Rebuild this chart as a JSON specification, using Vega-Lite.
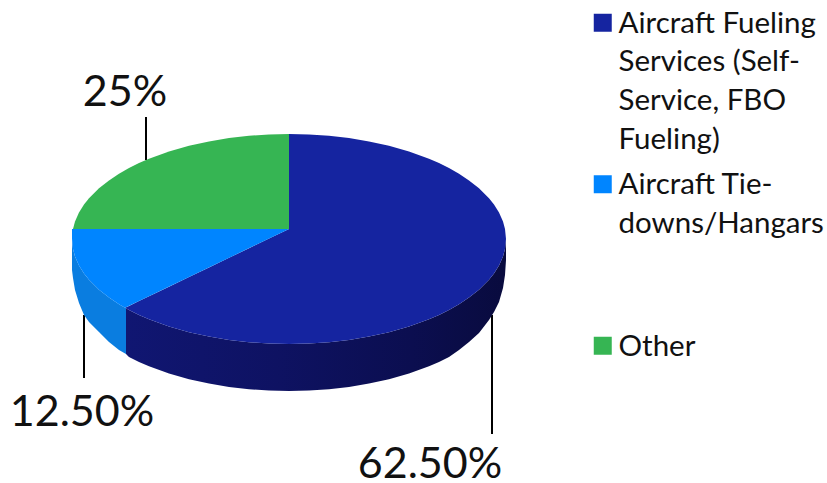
{
  "$schema": "https://vega.github.io/schema/vega-lite/v6.json",
  "width": 827,
  "height": 483,
  "padding": 0,
  "autosize": {"type": "none"},
  "background": "white",
  "config": {"view": {"stroke": null}},
  "datasets": {
    "faces": [
      {"slice": "Aircraft Fueling Services", "x": 125, "y": 307.8, "y2": 307.8},
      {"slice": "Aircraft Fueling Services", "x": 129, "y": 305.9, "y2": 309.9},
      {"slice": "Aircraft Fueling Services", "x": 139, "y": 301.1, "y2": 314.9},
      {"slice": "Aircraft Fueling Services", "x": 149, "y": 296.3, "y2": 319.2},
      {"slice": "Aircraft Fueling Services", "x": 169, "y": 286.7, "y2": 326.5},
      {"slice": "Aircraft Fueling Services", "x": 189, "y": 277.0, "y2": 332.2},
      {"slice": "Aircraft Fueling Services", "x": 209, "y": 267.4, "y2": 336.6},
      {"slice": "Aircraft Fueling Services", "x": 229, "y": 257.8, "y2": 339.9},
      {"slice": "Aircraft Fueling Services", "x": 249, "y": 248.2, "y2": 342.2},
      {"slice": "Aircraft Fueling Services", "x": 269, "y": 238.6, "y2": 343.5},
      {"slice": "Aircraft Fueling Services", "x": 289, "y": 229, "y2": 344},
      {"slice": "Aircraft Fueling Services", "x": 289.01, "y": 134, "y2": 344},
      {"slice": "Aircraft Fueling Services", "x": 309, "y": 134.5, "y2": 343.5},
      {"slice": "Aircraft Fueling Services", "x": 329, "y": 135.8, "y2": 342.2},
      {"slice": "Aircraft Fueling Services", "x": 349, "y": 138.1, "y2": 339.9},
      {"slice": "Aircraft Fueling Services", "x": 369, "y": 141.4, "y2": 336.6},
      {"slice": "Aircraft Fueling Services", "x": 389, "y": 145.8, "y2": 332.2},
      {"slice": "Aircraft Fueling Services", "x": 409, "y": 151.5, "y2": 326.5},
      {"slice": "Aircraft Fueling Services", "x": 429, "y": 158.8, "y2": 319.2},
      {"slice": "Aircraft Fueling Services", "x": 439, "y": 163.1, "y2": 314.9},
      {"slice": "Aircraft Fueling Services", "x": 449, "y": 168.1, "y2": 309.9},
      {"slice": "Aircraft Fueling Services", "x": 459, "y": 173.7, "y2": 304.3},
      {"slice": "Aircraft Fueling Services", "x": 469, "y": 180.4, "y2": 297.6},
      {"slice": "Aircraft Fueling Services", "x": 479, "y": 188.3, "y2": 289.7},
      {"slice": "Aircraft Fueling Services", "x": 489, "y": 198.3, "y2": 279.7},
      {"slice": "Aircraft Fueling Services", "x": 494, "y": 204.6, "y2": 273.4},
      {"slice": "Aircraft Fueling Services", "x": 499, "y": 212.5, "y2": 265.5},
      {"slice": "Aircraft Fueling Services", "x": 503, "y": 221.6, "y2": 256.4},
      {"slice": "Aircraft Fueling Services", "x": 505, "y": 228.9, "y2": 249.1},
      {"slice": "Aircraft Fueling Services", "x": 506, "y": 239, "y2": 239},

      {"slice": "Aircraft Tie-downs/Hangars", "x": 72, "y": 229, "y2": 239},
      {"slice": "Aircraft Tie-downs/Hangars", "x": 73, "y": 229, "y2": 249},
      {"slice": "Aircraft Tie-downs/Hangars", "x": 75, "y": 229, "y2": 256.4},
      {"slice": "Aircraft Tie-downs/Hangars", "x": 79, "y": 229, "y2": 265.5},
      {"slice": "Aircraft Tie-downs/Hangars", "x": 84, "y": 229, "y2": 273.4},
      {"slice": "Aircraft Tie-downs/Hangars", "x": 89, "y": 229, "y2": 279.7},
      {"slice": "Aircraft Tie-downs/Hangars", "x": 99, "y": 229, "y2": 289.7},
      {"slice": "Aircraft Tie-downs/Hangars", "x": 109, "y": 229, "y2": 297.6},
      {"slice": "Aircraft Tie-downs/Hangars", "x": 119, "y": 229, "y2": 304.3},
      {"slice": "Aircraft Tie-downs/Hangars", "x": 125, "y": 229, "y2": 307.8},
      {"slice": "Aircraft Tie-downs/Hangars", "x": 289, "y": 229, "y2": 229},

      {"slice": "Other", "x": 73, "y": 229, "y2": 229},
      {"slice": "Other", "x": 75, "y": 221.6, "y2": 229},
      {"slice": "Other", "x": 79, "y": 212.5, "y2": 229},
      {"slice": "Other", "x": 84, "y": 204.6, "y2": 229},
      {"slice": "Other", "x": 89, "y": 198.3, "y2": 229},
      {"slice": "Other", "x": 99, "y": 188.3, "y2": 229},
      {"slice": "Other", "x": 109, "y": 180.4, "y2": 229},
      {"slice": "Other", "x": 119, "y": 173.7, "y2": 229},
      {"slice": "Other", "x": 129, "y": 168.1, "y2": 229},
      {"slice": "Other", "x": 139, "y": 163.1, "y2": 229},
      {"slice": "Other", "x": 149, "y": 158.8, "y2": 229},
      {"slice": "Other", "x": 169, "y": 151.5, "y2": 229},
      {"slice": "Other", "x": 189, "y": 145.8, "y2": 229},
      {"slice": "Other", "x": 209, "y": 141.4, "y2": 229},
      {"slice": "Other", "x": 229, "y": 138.1, "y2": 229},
      {"slice": "Other", "x": 249, "y": 135.8, "y2": 229},
      {"slice": "Other", "x": 269, "y": 134.5, "y2": 229},
      {"slice": "Other", "x": 289, "y": 134, "y2": 229}
    ],
    "tieDownWall": [
      {"x": 72, "y": 239, "y2": 270},
      {"x": 73, "y": 249, "y2": 278},
      {"x": 75, "y": 256.4, "y2": 290},
      {"x": 79, "y": 265.5, "y2": 303},
      {"x": 84, "y": 273.4, "y2": 315},
      {"x": 89, "y": 279.7, "y2": 322},
      {"x": 99, "y": 289.7, "y2": 332},
      {"x": 109, "y": 297.6, "y2": 342},
      {"x": 119, "y": 304.3, "y2": 350},
      {"x": 126, "y": 308.3, "y2": 354}
    ],
    "fuelingWall": [
      {"x": 126, "y": 308.3, "y2": 354},
      {"x": 129, "y": 309.9, "y2": 356.9},
      {"x": 139, "y": 314.9, "y2": 361.9},
      {"x": 149, "y": 319.2, "y2": 366.2},
      {"x": 169, "y": 326.5, "y2": 373.5},
      {"x": 189, "y": 332.2, "y2": 379.2},
      {"x": 209, "y": 336.6, "y2": 383.6},
      {"x": 229, "y": 339.9, "y2": 386.9},
      {"x": 249, "y": 342.2, "y2": 389.2},
      {"x": 269, "y": 343.5, "y2": 390.5},
      {"x": 289, "y": 344, "y2": 391},
      {"x": 309, "y": 343.5, "y2": 390.5},
      {"x": 329, "y": 342.2, "y2": 389.2},
      {"x": 349, "y": 339.9, "y2": 386.9},
      {"x": 369, "y": 336.6, "y2": 383.6},
      {"x": 389, "y": 332.2, "y2": 379.2},
      {"x": 409, "y": 326.5, "y2": 373.5},
      {"x": 429, "y": 319.2, "y2": 366.2},
      {"x": 439, "y": 314.9, "y2": 361.9},
      {"x": 449, "y": 309.9, "y2": 356.9},
      {"x": 459, "y": 304.3, "y2": 350},
      {"x": 469, "y": 297.6, "y2": 342},
      {"x": 479, "y": 289.7, "y2": 333},
      {"x": 489, "y": 279.7, "y2": 320},
      {"x": 494, "y": 273.4, "y2": 312},
      {"x": 499, "y": 265.5, "y2": 302},
      {"x": 503, "y": 256.4, "y2": 288},
      {"x": 505, "y": 249.1, "y2": 275},
      {"x": 506, "y": 239, "y2": 260}
    ],
    "callouts": [
      {"slice": "Other", "label": "25%", "x": 146, "y": 117, "y2": 160, "labelX": 125, "labelY": 106},
      {"slice": "Aircraft Tie-downs/Hangars", "label": "12.50%", "x": 84, "y": 315, "y2": 378, "labelX": 82, "labelY": 426},
      {"slice": "Aircraft Fueling Services", "label": "62.50%", "x": 492, "y": 315, "y2": 434, "labelX": 430, "labelY": 478}
    ]
  },
  "layer": [
    {
      "data": {"name": "callouts"},
      "mark": {"type": "rule", "color": "#000000", "strokeWidth": 2},
      "encoding": {
        "x": {"field": "x", "type": "quantitative", "axis": null, "scale": {"domain": [0, 827]}},
        "y": {"field": "y", "type": "quantitative", "axis": null, "scale": {"domain": [483, 0]}},
        "y2": {"field": "y2"}
      }
    },
    {
      "data": {"name": "tieDownWall"},
      "mark": {"type": "area", "color": "#0a7de0"},
      "encoding": {
        "x": {"field": "x", "type": "quantitative", "axis": null, "scale": {"domain": [0, 827]}},
        "y": {"field": "y", "type": "quantitative", "axis": null, "scale": {"domain": [483, 0]}},
        "y2": {"field": "y2"}
      }
    },
    {
      "data": {"name": "fuelingWall"},
      "mark": {
        "type": "area",
        "color": {
          "gradient": "linear",
          "x1": 0, "x2": 1, "y1": 0, "y2": 0,
          "stops": [
            {"offset": 0, "color": "#101672"},
            {"offset": 0.4, "color": "#0e1262"},
            {"offset": 0.75, "color": "#0b0e50"},
            {"offset": 1, "color": "#090b3e"}
          ]
        }
      },
      "encoding": {
        "x": {"field": "x", "type": "quantitative", "axis": null, "scale": {"domain": [0, 827]}},
        "y": {"field": "y", "type": "quantitative", "axis": null, "scale": {"domain": [483, 0]}},
        "y2": {"field": "y2"}
      }
    },
    {
      "data": {"name": "faces"},
      "mark": {"type": "area"},
      "encoding": {
        "x": {"field": "x", "type": "quantitative", "axis": null, "scale": {"domain": [0, 827]}},
        "y": {"field": "y", "type": "quantitative", "axis": null, "scale": {"domain": [483, 0]}},
        "y2": {"field": "y2"},
        "color": {
          "field": "slice",
          "type": "nominal",
          "scale": {
            "domain": ["Aircraft Fueling Services", "Aircraft Tie-downs/Hangars", "Other"],
            "range": ["#1524a0", "#0085ff", "#36b553"]
          },
          "legend": {
            "orient": "none",
            "legendX": 588,
            "legendY": 8,
            "title": null,
            "symbolType": "square",
            "symbolSize": 324,
            "symbolStrokeWidth": 0,
            "symbolOpacity": 1,
            "labelFont": "Lato",
            "labelFontSize": 29.5,
            "labelColor": "#111111",
            "labelLimit": 400,
            "labelOffset": 1,
            "labelBaseline": "alphabetic",
            "gridAlign": "all",
            "rowPadding": 14.5,
            "labelExpr": "datum.label === 'Aircraft Fueling Services' ? ['Aircraft Fueling', 'Services (Self-', 'Service, FBO', 'Fueling)'] : datum.label === 'Aircraft Tie-downs/Hangars' ? ['Aircraft Tie-', 'downs/Hangars'] : datum.label",
            "encoding": {"labels": {"dy": {"value": 10}, "lineHeight": {"value": 38.6}}}
          }
        }
      }
    },
    {
      "data": {"name": "callouts"},
      "mark": {"type": "text", "font": "Lato", "fontSize": 43, "align": "center", "baseline": "alphabetic", "color": "#111111"},
      "encoding": {
        "x": {"field": "labelX", "type": "quantitative", "axis": null, "scale": {"domain": [0, 827]}},
        "y": {"field": "labelY", "type": "quantitative", "axis": null, "scale": {"domain": [483, 0]}},
        "text": {"field": "label"}
      }
    }
  ]
}
